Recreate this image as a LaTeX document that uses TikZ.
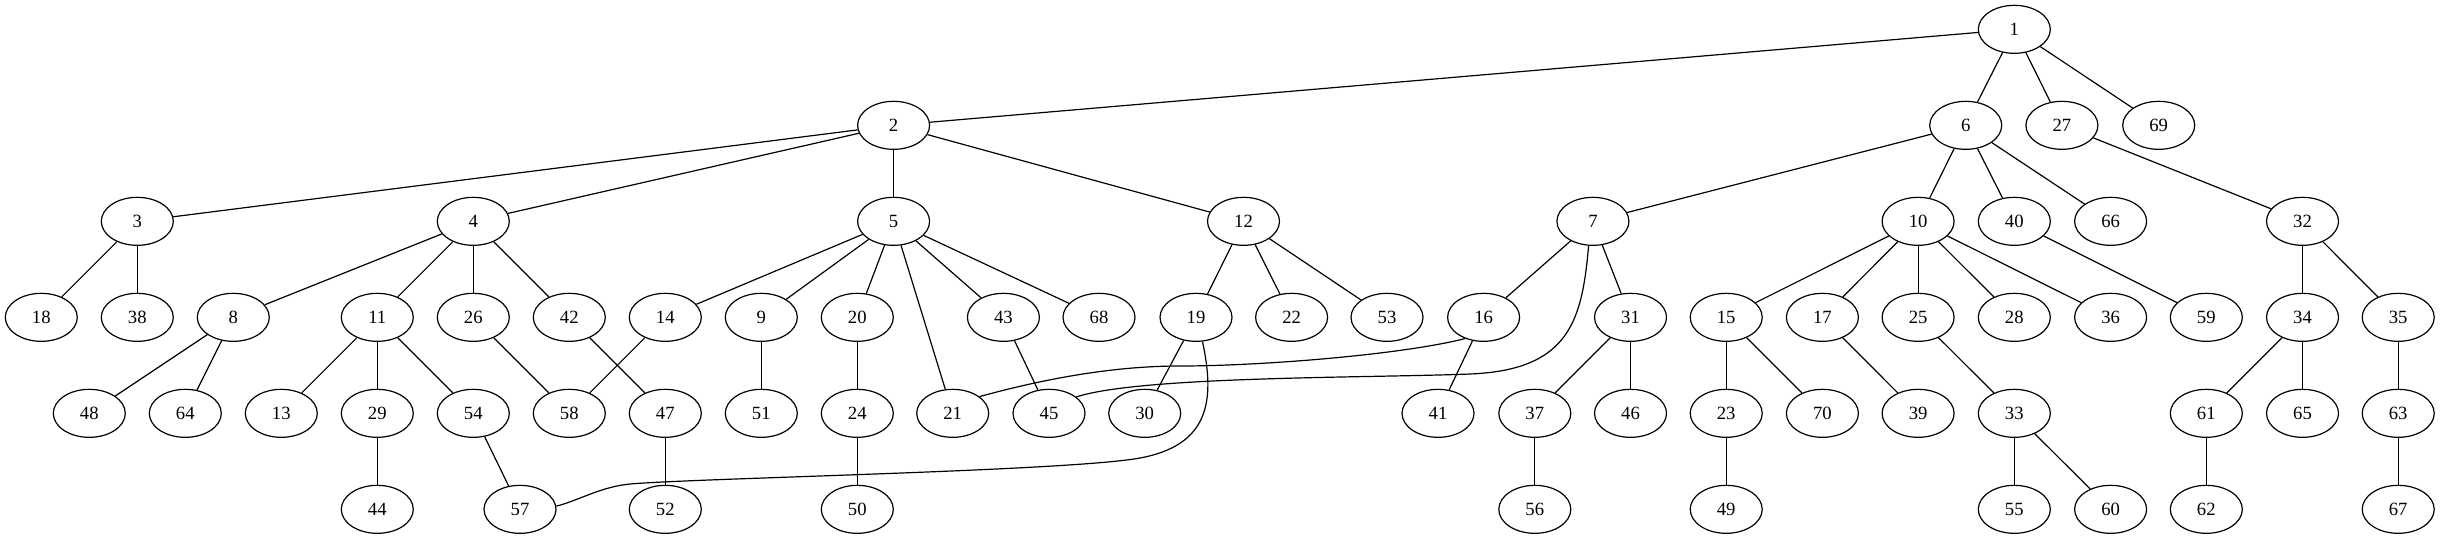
\documentclass[tikz,border=0pt]{standalone}
\usepackage{fontspec}
\setmainfont{Liberation Serif}
\usetikzlibrary{shapes.geometric}

\begin{document}
\begin{tikzpicture}[x=0.75pt,y=-0.75pt,
    vertex/.style={draw,ellipse,minimum width=54pt,minimum height=36pt,inner sep=0pt,line width=0.9pt,font=\fontsize{14}{16}\selectfont},
    link/.style={line width=0.9pt}]
      \useasboundingbox (0,0) rectangle (2440,539);
      \foreach \n/\x in {1/2014.3}
            \node[vertex] (n\n) at (\x,29.33) {\n};
      \foreach \n/\x in {2/893.6,6/1965.7,27/2061.9,69/2158.7}
            \node[vertex] (n\n) at (\x,125.33) {\n};
      \foreach \n/\x in {3/137.3,4/473.3,5/893.6,12/1243.5,7/1592.9,10/1918.1,40/2014.3,66/2110.6,32/2302.5}
            \node[vertex] (n\n) at (\x,221.33) {\n};
      \foreach \n/\x in {18/41.3,38/137.3,8/233.3,11/377.3,26/473.3,42/569.3,14/665.3,9/761.3,20/857.3,43/1003.4,68/1099,19/1196,22/1291.6,53/1387,16/1483.6,31/1630.5,15/1726.2,17/1822.4,25/1918.1,28/2014.3,36/2110.6,59/2206.3,34/2302.5,35/2398.2}
            \node[vertex] (n\n) at (\x,317.33) {\n};
      \foreach \n/\x in {48/89.3,64/185.3,13/281.3,29/377.3,54/473.3,58/569.3,47/665.3,51/761.3,24/857.3,21/952.7,45/1049,30/1144.7,41/1438,37/1534.8,46/1630.5,23/1726.2,70/1822.4,39/1918.1,33/2014.3,61/2206.3,65/2302.5,63/2398.2}
            \node[vertex] (n\n) at (\x,413.33) {\n};
      \foreach \n/\x in {44/377.3,57/520,52/665.3,50/857.3,56/1534.8,49/1726.2,55/2014.3,60/2110.6,62/2206.3,67/2398.2}
            \node[vertex] (n\n) at (\x,509.33) {\n};
      \foreach \a/\b in {1/2,1/6,1/27,1/69,2/3,2/4,2/5,2/12,3/18,3/38,4/8,4/11,4/26,4/42,5/14,5/9,5/20,5/21,5/43,5/68,12/19,12/22,12/53,6/7,6/10,6/40,6/66,27/32,7/16,7/31,10/15,10/17,10/25,10/28,10/36,40/59,32/34,32/35,8/48,8/64,11/13,11/29,11/54,26/58,42/47,14/58,9/51,20/24,43/45,19/30,16/41,31/37,31/46,15/23,15/70,17/39,25/33,34/61,34/65,35/63,29/44,54/57,47/52,24/50,37/56,23/49,33/55,33/60,61/62,63/67}
            \draw[link] (n\a) -- (n\b);
      \draw[link] (n16.229) .. controls (1400,355) and (1260,366) .. (1180,366) .. controls (1110,366) and (1040,380) .. (n21.32);
      \draw[link] (n7.260) .. controls (1582,320) and (1570,370) .. (1470,374) .. controls (1370,378) and (1140,376) .. (n45.31);
      \draw[link] (n19.285) .. controls (1215,400) and (1210,445) .. (1140,458) .. controls (1070,471) and (700,478) .. (630,484) .. controls (600,487) and (580,500) .. (n57.5);
\end{tikzpicture}
\end{document}
